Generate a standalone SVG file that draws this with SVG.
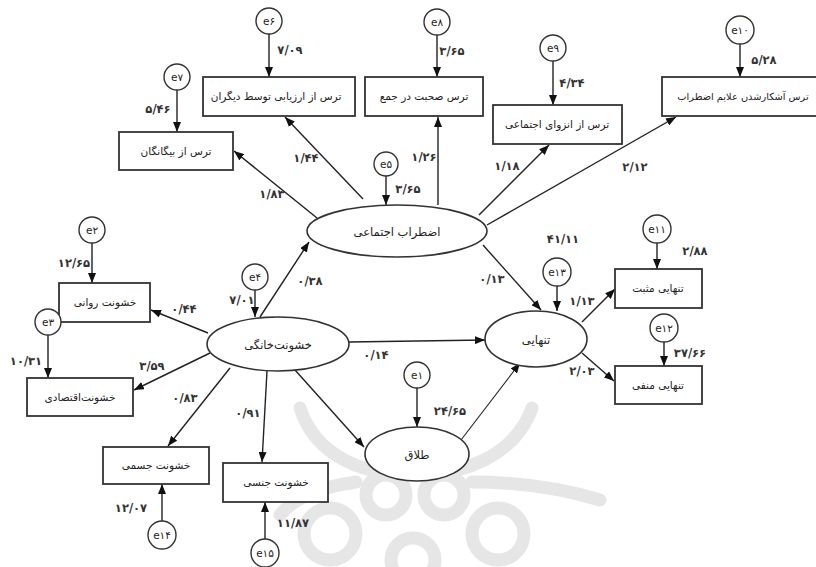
<svg xmlns="http://www.w3.org/2000/svg" width="816" height="567" viewBox="0 0 816 567">
<defs>
<marker id="ah" markerUnits="userSpaceOnUse" markerWidth="10" markerHeight="8" refX="10" refY="4" orient="auto">
<path d="M0,0 L10,4 L0,8 Z" fill="#111"/>
</marker>
<style>
.box{fill:#fff;stroke:#333;stroke-width:1.8}
.ell{fill:#fff;stroke:#333;stroke-width:1.6}
.err{fill:#fff;stroke:#333;stroke-width:1.4}
.ln{fill:none;stroke:#222;stroke-width:1.4;marker-end:url(#ah)}
.lt{font-family:"DejaVu Sans",sans-serif;font-size:10.5px;fill:#222;text-anchor:middle}
.et{font-family:"DejaVu Sans",sans-serif;font-size:11.5px;fill:#222;text-anchor:middle}
.ev{font-family:"DejaVu Sans",sans-serif;font-size:10.5px;fill:#222;text-anchor:middle}
.num{font-family:"DejaVu Sans",sans-serif;font-size:11.5px;font-weight:bold;fill:#333;text-anchor:middle}
.wm{fill:none;stroke:#e6e6e6;stroke-width:13;stroke-linecap:round}
</style>
</defs>
<rect width="816" height="567" fill="#fff"/>
<g id="watermark">
<path class="wm" d="M300,408 C315,455 365,478 413,472"/>
<path class="wm" d="M532,408 C515,455 462,478 413,472"/>
<circle class="wm" cx="386" cy="495" r="20"/>
<circle class="wm" cx="444" cy="495" r="20"/>
<circle class="wm" cx="330" cy="534" r="26"/>
<circle class="wm" cx="498" cy="534" r="26"/>
<circle class="wm" cx="413" cy="560" r="22"/>
<path class="wm" d="M472,482 Q540,482 600,500"/>
<path class="wm" d="M356,482 Q300,490 280,515"/>
</g>
<g id="connectors">
<line class="ln" x1="269" y1="33" x2="269" y2="77"/>
<line class="ln" x1="177" y1="90" x2="177" y2="132"/>
<line class="ln" x1="437" y1="35" x2="437" y2="77"/>
<line class="ln" x1="553" y1="61" x2="553" y2="105"/>
<line class="ln" x1="740" y1="44" x2="740" y2="77"/>
<line class="ln" x1="386" y1="176" x2="386" y2="205"/>
<line class="ln" x1="255" y1="290" x2="255" y2="317"/>
<line class="ln" x1="92" y1="243" x2="92" y2="283"/>
<line class="ln" x1="48" y1="335" x2="48" y2="378"/>
<line class="ln" x1="557" y1="286" x2="557" y2="311"/>
<line class="ln" x1="657" y1="243" x2="657" y2="269"/>
<line class="ln" x1="664" y1="342" x2="664" y2="366"/>
<line class="ln" x1="417" y1="388" x2="417" y2="427"/>
<line class="ln" x1="162" y1="521" x2="162" y2="484"/>
<line class="ln" x1="265" y1="539" x2="265" y2="502"/>
<line class="ln" x1="317" y1="218" x2="234" y2="151"/>
<line class="ln" x1="363" y1="199" x2="285" y2="117"/>
<line class="ln" x1="438" y1="205" x2="438" y2="117"/>
<line class="ln" x1="479" y1="215" x2="549" y2="145"/>
<line class="ln" x1="487" y1="225" x2="676" y2="117"/>
<line class="ln" x1="260" y1="317" x2="309" y2="242"/>
<line class="ln" x1="208" y1="333" x2="151" y2="310"/>
<line class="ln" x1="210" y1="353" x2="134" y2="390"/>
<line class="ln" x1="230" y1="368" x2="168" y2="446"/>
<line class="ln" x1="267" y1="371" x2="262" y2="462"/>
<line class="ln" x1="295" y1="370" x2="364" y2="447"/>
<line class="ln" x1="349" y1="342" x2="485" y2="340"/>
<line class="ln" x1="483" y1="245" x2="541" y2="310"/>
<line class="ln" x1="461" y1="440" x2="520" y2="363" style="stroke-width:1.1"/>
<line class="ln" x1="582" y1="322" x2="615" y2="289"/>
<line class="ln" x1="582" y1="353" x2="614" y2="381"/>
</g>
<g id="n_bigane"><rect class="box" x="119" y="132" width="114" height="38"/><text class="lt" x="176" y="155">ترس از بیگانگان</text></g>
<g id="n_arzyabi"><rect class="box" x="203" y="77" width="152" height="39"/><text class="lt" x="276" y="100">ترس از ارزیابی توسط دیگران</text></g>
<g id="n_sohbat"><rect class="box" x="365" y="77" width="118" height="39"/><text class="lt" x="424" y="100">ترس صحبت در جمع</text></g>
<g id="n_enzeva"><rect class="box" x="493" y="105" width="129" height="39"/><text class="lt" x="557" y="128">ترس از انزوای اجتماعی</text></g>
<g id="n_ashkar"><rect class="box" x="662" y="77" width="160" height="39"/><text class="lt" x="743" y="100" style="font-size:9.8px">ترس  آشکارشدن علایم اضطراب</text></g>
<g id="n_ravani"><rect class="box" x="59" y="283" width="91" height="39"/><text class="lt" x="105" y="306">خشونت روانی</text></g>
<g id="n_eghtesadi"><rect class="box" x="27" y="378" width="106" height="38"/><text class="lt" x="80" y="401">خشونت‌اقتصادی</text></g>
<g id="n_jesmi"><rect class="box" x="103" y="447" width="106" height="37"/><text class="lt" x="156" y="469">خشونت جسمی</text></g>
<g id="n_jensi"><rect class="box" x="223" y="463" width="105" height="39"/><text class="lt" x="276" y="486">خشونت جنسی</text></g>
<g id="n_mosbat"><rect class="box" x="615" y="269" width="87" height="39"/><text class="lt" x="658" y="292">تنهایی مثبت</text></g>
<g id="n_manfi"><rect class="box" x="615" y="366" width="87" height="38"/><text class="lt" x="658" y="389">تنهایی منفی</text></g>
<g id="n_ezterab"><ellipse class="ell" cx="397" cy="231" rx="90" ry="26"/><text class="et" x="397" y="236">اضطراب اجتماعی</text></g>
<g id="n_khanegi"><ellipse class="ell" cx="278" cy="344" rx="71" ry="27"/><text class="et" x="278" y="349">خشونت‌خانگی</text></g>
<g id="n_tanhaei"><ellipse class="ell" cx="536" cy="339" rx="51" ry="28"/><text class="et" x="536" y="344">تنهایی</text></g>
<g id="n_talagh"><ellipse class="ell" cx="417" cy="454" rx="52" ry="27"/><text class="et" x="417" y="459">طلاق</text></g>
<g id="e1"><circle class="err" cx="417" cy="375" r="13"/><text class="ev" x="417" y="379">e۱</text></g>
<g id="e2"><circle class="err" cx="92" cy="230" r="13"/><text class="ev" x="92" y="234">e۲</text></g>
<g id="e3"><circle class="err" cx="48" cy="322" r="13"/><text class="ev" x="48" y="326">e۳</text></g>
<g id="e4"><circle class="err" cx="255" cy="277" r="13"/><text class="ev" x="255" y="281">e۴</text></g>
<g id="e5"><circle class="err" cx="386" cy="164" r="12"/><text class="ev" x="386" y="168">e۵</text></g>
<g id="e6"><circle class="err" cx="269" cy="21" r="13"/><text class="ev" x="269" y="25">e۶</text></g>
<g id="e7"><circle class="err" cx="177" cy="77" r="13"/><text class="ev" x="177" y="81">e۷</text></g>
<g id="e8"><circle class="err" cx="437" cy="22" r="13"/><text class="ev" x="437" y="26">e۸</text></g>
<g id="e9"><circle class="err" cx="553" cy="48" r="13"/><text class="ev" x="553" y="52">e۹</text></g>
<g id="e10"><circle class="err" cx="740" cy="30" r="14"/><text class="ev" x="740" y="34">e۱۰</text></g>
<g id="e11"><circle class="err" cx="657" cy="229" r="14"/><text class="ev" x="657" y="233">e۱۱</text></g>
<g id="e12"><circle class="err" cx="664" cy="328" r="14"/><text class="ev" x="664" y="332">e۱۲</text></g>
<g id="e13"><circle class="err" cx="557" cy="272" r="14"/><text class="ev" x="557" y="276">e۱۳</text></g>
<g id="e14"><circle class="err" cx="162" cy="535" r="14"/><text class="ev" x="162" y="539">e۱۴</text></g>
<g id="e15"><circle class="err" cx="265" cy="553" r="14"/><text class="ev" x="265" y="557">e۱۵</text></g>
<g id="labels">
<text class="num" x="290" y="54">۷/۰۹</text>
<text class="num" x="158" y="113">۵/۴۶</text>
<text class="num" x="452" y="55">۳/۶۵</text>
<text class="num" x="572" y="87">۴/۳۴</text>
<text class="num" x="764" y="64">۵/۲۸</text>
<text class="num" x="272" y="198">۱/۸۳</text>
<text class="num" x="306" y="162">۱/۴۴</text>
<text class="num" x="424" y="161">۱/۲۶</text>
<text class="num" x="408" y="193">۳/۶۵</text>
<text class="num" x="507" y="170">۱/۱۸</text>
<text class="num" x="635" y="171">۲/۱۲</text>
<text class="num" x="310" y="285">۰/۳۸</text>
<text class="num" x="242" y="304">۷/۰۱</text>
<text class="num" x="74" y="267">۱۲/۶۵</text>
<text class="num" x="184" y="313">۰/۴۴</text>
<text class="num" x="26" y="365">۱۰/۳۱</text>
<text class="num" x="152" y="370">۳/۵۹</text>
<text class="num" x="376" y="359">۰/۱۴</text>
<text class="num" x="185" y="402">۰/۸۳</text>
<text class="num" x="248" y="417">۰/۹۱</text>
<text class="num" x="131" y="512">۱۲/۰۷</text>
<text class="num" x="293" y="527">۱۱/۸۷</text>
<text class="num" x="450" y="415">۲۴/۶۵</text>
<text class="num" x="492" y="283">۰/۱۳</text>
<text class="num" x="563" y="243">۴۱/۱۱</text>
<text class="num" x="582" y="305">۱/۱۳</text>
<text class="num" x="582" y="375">۲/۰۳</text>
<text class="num" x="695" y="255">۲/۸۸</text>
<text class="num" x="690" y="357">۳۷/۶۶</text>
</g>
</svg>
